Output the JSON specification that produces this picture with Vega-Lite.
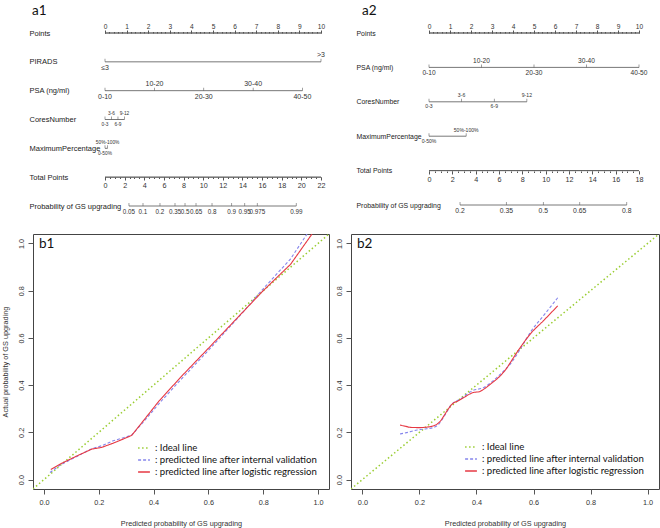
{
 "$schema": "https://vega.github.io/schema/vega-lite/v6.json",
 "padding": 0,
 "autosize": {"type": "pad"},
 "columns": 2,
 "spacing": {"row": 6, "column": 22},
 "bounds": "flush",
 "align": "each",
 "config": {
  "view": {"stroke": null},
  "axis": {"grid": false, "labelFont": "Liberation Sans", "titleFont": "Liberation Sans", "labelColor": "#333", "titleColor": "#333", "tickColor": "#555", "domainColor": "#555", "labelFlush": false, "labelOverlap": false, "titleFontWeight": "normal"},
  "title": {"font": "Lato", "fontSize": 13.5, "fontWeight": "normal", "color": "#111", "anchor": "start", "frame": "group", "baseline": "alphabetic"},
  "text": {"font": "Liberation Sans", "color": "#333"},
  "rule": {"color": "#555", "strokeWidth": 0.8},
  "tick": {"color": "#555", "thickness": 0.8}
 },
 "resolve": {"scale": {"color": "independent", "strokeDash": "independent"}, "legend": {"color": "independent", "strokeDash": "independent"}},
 "datasets": {
  "a1_pts": [{"var": "Points", "lo": 0, "hi": 10}],
  "a1_tot": [{"var": "Total Points", "lo": 0, "hi": 22}],
  "a1_seg": [
   {"var": "PIRADS", "lo": 0, "hi": 10},
   {"var": "PSA (ng/ml)", "lo": 0, "hi": 9.14},
   {"var": "CoresNumber", "lo": 0, "hi": 0.9},
   {"var": "MaximumPercentage", "lo": 0, "hi": 0.12}
  ],
  "a1_lab": [
   {"var": "PIRADS", "value": 0, "label": "≤3", "side": "below"},
   {"var": "PIRADS", "value": 10, "label": ">3", "side": "above"},
   {"var": "PSA (ng/ml)", "value": 0, "label": "0-10", "side": "below"},
   {"var": "PSA (ng/ml)", "value": 2.29, "label": "10-20", "side": "above"},
   {"var": "PSA (ng/ml)", "value": 4.57, "label": "20-30", "side": "below"},
   {"var": "PSA (ng/ml)", "value": 6.86, "label": "30-40", "side": "above"},
   {"var": "PSA (ng/ml)", "value": 9.14, "label": "40-50", "side": "below"},
   {"var": "CoresNumber", "value": 0, "label": "0-3", "side": "below"},
   {"var": "CoresNumber", "value": 0.3, "label": "3-6", "side": "above"},
   {"var": "CoresNumber", "value": 0.6, "label": "6-9", "side": "below"},
   {"var": "CoresNumber", "value": 0.9, "label": "9-12", "side": "above"},
   {"var": "MaximumPercentage", "value": 0, "label": "0-50%", "side": "below"},
   {"var": "MaximumPercentage", "value": 0.12, "label": "50%-100%", "side": "above"}
  ],
  "a1_pseg": [{"var": "Probability of GS upgrading", "lo": 2.44, "hi": 19.48}],
  "a1_prob": [
   {"var": "Probability of GS upgrading", "value": 2.44, "label": "0.05"},
   {"var": "Probability of GS upgrading", "value": 3.87, "label": "0.1"},
   {"var": "Probability of GS upgrading", "value": 5.6, "label": "0.2"},
   {"var": "Probability of GS upgrading", "value": 7.13, "label": "0.35"},
   {"var": "Probability of GS upgrading", "value": 8.15, "label": "0.5"},
   {"var": "Probability of GS upgrading", "value": 9.27, "label": "0.65"},
   {"var": "Probability of GS upgrading", "value": 10.9, "label": "0.8"},
   {"var": "Probability of GS upgrading", "value": 12.9, "label": "0.9"},
   {"var": "Probability of GS upgrading", "value": 14.23, "label": "0.95"},
   {"var": "Probability of GS upgrading", "value": 15.51, "label": "0.975"},
   {"var": "Probability of GS upgrading", "value": 19.48, "label": "0.99"}
  ],
  "a2_pts": [{"var": "Points", "lo": 0, "hi": 10}],
  "a2_tot": [{"var": "Total Points", "lo": 0, "hi": 18}],
  "a2_seg": [
   {"var": "PSA (ng/ml)", "lo": 0, "hi": 10},
   {"var": "CoresNumber", "lo": 0, "hi": 4.66},
   {"var": "MaximumPercentage", "lo": 0, "hi": 1.77}
  ],
  "a2_lab": [
   {"var": "PSA (ng/ml)", "value": 0, "label": "0-10", "side": "below"},
   {"var": "PSA (ng/ml)", "value": 2.5, "label": "10-20", "side": "above"},
   {"var": "PSA (ng/ml)", "value": 5, "label": "20-30", "side": "below"},
   {"var": "PSA (ng/ml)", "value": 7.5, "label": "30-40", "side": "above"},
   {"var": "PSA (ng/ml)", "value": 10, "label": "40-50", "side": "below"},
   {"var": "CoresNumber", "value": 0, "label": "0-3", "side": "below"},
   {"var": "CoresNumber", "value": 1.55, "label": "3-6", "side": "above"},
   {"var": "CoresNumber", "value": 3.11, "label": "6-9", "side": "below"},
   {"var": "CoresNumber", "value": 4.66, "label": "9-12", "side": "above"},
   {"var": "MaximumPercentage", "value": 0, "label": "0-50%", "side": "below"},
   {"var": "MaximumPercentage", "value": 1.77, "label": "50%-100%", "side": "above"}
  ],
  "a2_pseg": [{"var": "Probability of GS upgrading", "lo": 2.66, "hi": 16.95}],
  "a2_prob": [
   {"var": "Probability of GS upgrading", "value": 2.66, "label": "0.2"},
   {"var": "Probability of GS upgrading", "value": 6.63, "label": "0.35"},
   {"var": "Probability of GS upgrading", "value": 9.8, "label": "0.5"},
   {"var": "Probability of GS upgrading", "value": 12.92, "label": "0.65"},
   {"var": "Probability of GS upgrading", "value": 16.95, "label": "0.8"}
  ],
  "b1": [
   {"series": "Ideal line", "x": -0.04, "y": -0.04},
   {"series": "Ideal line", "x": 1.04, "y": 1.04},
   {"series": "predicted line after internal validation", "x": 0.022, "y": 0.03},
   {"series": "predicted line after internal validation", "x": 0.06, "y": 0.062},
   {"series": "predicted line after internal validation", "x": 0.12, "y": 0.098},
   {"series": "predicted line after internal validation", "x": 0.175, "y": 0.131},
   {"series": "predicted line after internal validation", "x": 0.21, "y": 0.143},
   {"series": "predicted line after internal validation", "x": 0.25, "y": 0.163},
   {"series": "predicted line after internal validation", "x": 0.29, "y": 0.177},
   {"series": "predicted line after internal validation", "x": 0.32, "y": 0.188},
   {"series": "predicted line after internal validation", "x": 0.36, "y": 0.24},
   {"series": "predicted line after internal validation", "x": 0.42, "y": 0.322},
   {"series": "predicted line after internal validation", "x": 0.5, "y": 0.424},
   {"series": "predicted line after internal validation", "x": 0.6, "y": 0.547},
   {"series": "predicted line after internal validation", "x": 0.7, "y": 0.675},
   {"series": "predicted line after internal validation", "x": 0.8, "y": 0.808},
   {"series": "predicted line after internal validation", "x": 0.9, "y": 0.935},
   {"series": "predicted line after internal validation", "x": 0.96, "y": 1.04},
   {"series": "predicted line after logistic regression", "x": 0.025, "y": 0.043},
   {"series": "predicted line after logistic regression", "x": 0.06, "y": 0.066},
   {"series": "predicted line after logistic regression", "x": 0.12, "y": 0.1},
   {"series": "predicted line after logistic regression", "x": 0.175, "y": 0.129},
   {"series": "predicted line after logistic regression", "x": 0.21, "y": 0.136},
   {"series": "predicted line after logistic regression", "x": 0.25, "y": 0.153},
   {"series": "predicted line after logistic regression", "x": 0.29, "y": 0.172},
   {"series": "predicted line after logistic regression", "x": 0.32, "y": 0.187},
   {"series": "predicted line after logistic regression", "x": 0.36, "y": 0.245},
   {"series": "predicted line after logistic regression", "x": 0.42, "y": 0.333},
   {"series": "predicted line after logistic regression", "x": 0.5, "y": 0.435},
   {"series": "predicted line after logistic regression", "x": 0.6, "y": 0.556},
   {"series": "predicted line after logistic regression", "x": 0.7, "y": 0.678},
   {"series": "predicted line after logistic regression", "x": 0.8, "y": 0.8},
   {"series": "predicted line after logistic regression", "x": 0.9, "y": 0.912},
   {"series": "predicted line after logistic regression", "x": 0.978, "y": 1.04}
  ],
  "b2": [
   {"series": "Ideal line", "x": -0.04, "y": -0.04},
   {"series": "Ideal line", "x": 1.04, "y": 1.04},
   {"series": "predicted line after internal validation", "x": 0.132, "y": 0.193},
   {"series": "predicted line after internal validation", "x": 0.16, "y": 0.2},
   {"series": "predicted line after internal validation", "x": 0.192, "y": 0.21},
   {"series": "predicted line after internal validation", "x": 0.225, "y": 0.215},
   {"series": "predicted line after internal validation", "x": 0.251, "y": 0.221},
   {"series": "predicted line after internal validation", "x": 0.268, "y": 0.235},
   {"series": "predicted line after internal validation", "x": 0.285, "y": 0.265},
   {"series": "predicted line after internal validation", "x": 0.3, "y": 0.295},
   {"series": "predicted line after internal validation", "x": 0.309, "y": 0.313},
   {"series": "predicted line after internal validation", "x": 0.325, "y": 0.33},
   {"series": "predicted line after internal validation", "x": 0.344, "y": 0.341},
   {"series": "predicted line after internal validation", "x": 0.365, "y": 0.36},
   {"series": "predicted line after internal validation", "x": 0.385, "y": 0.376},
   {"series": "predicted line after internal validation", "x": 0.426, "y": 0.39},
   {"series": "predicted line after internal validation", "x": 0.45, "y": 0.41},
   {"series": "predicted line after internal validation", "x": 0.472, "y": 0.433},
   {"series": "predicted line after internal validation", "x": 0.5, "y": 0.465},
   {"series": "predicted line after internal validation", "x": 0.519, "y": 0.49},
   {"series": "predicted line after internal validation", "x": 0.554, "y": 0.553},
   {"series": "predicted line after internal validation", "x": 0.589, "y": 0.624},
   {"series": "predicted line after internal validation", "x": 0.635, "y": 0.694},
   {"series": "predicted line after internal validation", "x": 0.685, "y": 0.77},
   {"series": "predicted line after logistic regression", "x": 0.132, "y": 0.231},
   {"series": "predicted line after logistic regression", "x": 0.15, "y": 0.226},
   {"series": "predicted line after logistic regression", "x": 0.169, "y": 0.221},
   {"series": "predicted line after logistic regression", "x": 0.2, "y": 0.22},
   {"series": "predicted line after logistic regression", "x": 0.216, "y": 0.221},
   {"series": "predicted line after logistic regression", "x": 0.245, "y": 0.226},
   {"series": "predicted line after logistic regression", "x": 0.262, "y": 0.235},
   {"series": "predicted line after logistic regression", "x": 0.275, "y": 0.25},
   {"series": "predicted line after logistic regression", "x": 0.286, "y": 0.27},
   {"series": "predicted line after logistic regression", "x": 0.3, "y": 0.297},
   {"series": "predicted line after logistic regression", "x": 0.315, "y": 0.32},
   {"series": "predicted line after logistic regression", "x": 0.335, "y": 0.333},
   {"series": "predicted line after logistic regression", "x": 0.356, "y": 0.348},
   {"series": "predicted line after logistic regression", "x": 0.39, "y": 0.369},
   {"series": "predicted line after logistic regression", "x": 0.41, "y": 0.372},
   {"series": "predicted line after logistic regression", "x": 0.426, "y": 0.383},
   {"series": "predicted line after logistic regression", "x": 0.455, "y": 0.41},
   {"series": "predicted line after logistic regression", "x": 0.484, "y": 0.44},
   {"series": "predicted line after logistic regression", "x": 0.505, "y": 0.47},
   {"series": "predicted line after logistic regression", "x": 0.519, "y": 0.496},
   {"series": "predicted line after logistic regression", "x": 0.554, "y": 0.56},
   {"series": "predicted line after logistic regression", "x": 0.589, "y": 0.617},
   {"series": "predicted line after logistic regression", "x": 0.635, "y": 0.673},
   {"series": "predicted line after logistic regression", "x": 0.685, "y": 0.736}
  ]
 },
 "concat": [
  {
   "width": 296, "height": 228,
   "view": {"stroke": null},
   "title": {"text": "a1", "offset": -17, "dx": -1},
   "encoding": {
    "y": {"field": "var", "type": "nominal",
     "scale": {"type": "point", "domain": ["Points", "PIRADS", "PSA (ng/ml)", "CoresNumber", "MaximumPercentage", "Total Points", "Probability of GS upgrading"], "range": [33, 206], "padding": 0},
     "axis": {"title": null, "domain": false, "ticks": false, "tickSize": 0, "labelAlign": "left", "labelPadding": 4, "labelFontSize": 7.5, "labelColor": "#222", "labelLimit": 200}}
   },
   "layer": [
    {"data": {"name": "a1_pts"}, "mark": {"type": "rule"},
     "encoding": {"x": {"field": "lo", "type": "quantitative", "scale": {"domain": [0, 10], "range": [72, 288], "nice": false, "zero": false},
       "axis": {"orient": "top", "offset": -33, "domain": false, "tickCount": 10, "tickSize": 3, "labelPadding": 1, "labelFontSize": 6.6, "title": null}}, "x2": {"field": "hi"}}},
    {"data": {"name": "a1_pts"}, "mark": {"type": "rule"},
     "encoding": {"x": {"field": "lo", "type": "quantitative", "scale": {"domain": [0, 10], "range": [72, 288], "nice": false, "zero": false},
       "axis": {"orient": "top", "offset": -33, "domain": false, "tickCount": 50, "tickSize": 1.5, "labels": false, "title": null}}, "x2": {"field": "hi"}}},
    {"data": {"name": "a1_tot"}, "mark": {"type": "rule"},
     "encoding": {"x": {"field": "lo", "type": "quantitative", "scale": {"domain": [0, 22], "range": [72, 288], "nice": false, "zero": false},
       "axis": {"orient": "bottom", "offset": -51, "domain": false, "tickCount": 11, "tickSize": 3, "labelPadding": 1, "labelFontSize": 7.2, "title": null}}, "x2": {"field": "hi"}}},
    {"data": {"name": "a1_tot"}, "mark": {"type": "rule"},
     "encoding": {"x": {"field": "lo", "type": "quantitative", "scale": {"domain": [0, 22], "range": [72, 288], "nice": false, "zero": false},
       "axis": {"orient": "bottom", "offset": -51, "domain": false, "tickCount": 44, "tickSize": 1.5, "labels": false, "title": null}}, "x2": {"field": "hi"}}},
    {"data": {"name": "a1_seg"}, "mark": {"type": "rule"},
     "encoding": {"x": {"field": "lo", "type": "quantitative", "scale": {"domain": [0, 10], "range": [72, 288], "nice": false, "zero": false}, "axis": null}, "x2": {"field": "hi"}}},
    {"data": {"name": "a1_lab"}, "mark": {"type": "tick", "size": 3, "yOffset": -1.5},
     "encoding": {"x": {"field": "value", "type": "quantitative", "scale": {"domain": [0, 10], "range": [72, 288], "nice": false, "zero": false}, "axis": null}}},
    {"data": {"name": "a1_lab"}, "transform": [{"filter": "datum.side === 'above'"}],
     "mark": {"type": "text", "baseline": "bottom", "dy": -3.5},
     "encoding": {"x": {"field": "value", "type": "quantitative", "scale": {"domain": [0, 10], "range": [72, 288], "nice": false, "zero": false}, "axis": null},
      "text": {"field": "label"},
      "size": {"condition": {"test": "datum.var === 'CoresNumber' || datum.var === 'MaximumPercentage'", "value": 4.8}, "value": 7}}},
    {"data": {"name": "a1_lab"}, "transform": [{"filter": "datum.side === 'below'"}],
     "mark": {"type": "text", "baseline": "top", "dy": 2.5},
     "encoding": {"x": {"field": "value", "type": "quantitative", "scale": {"domain": [0, 10], "range": [72, 288], "nice": false, "zero": false}, "axis": null},
      "text": {"field": "label"},
      "size": {"condition": {"test": "datum.var === 'CoresNumber' || datum.var === 'MaximumPercentage'", "value": 4.8}, "value": 7}}},
    {"data": {"name": "a1_pseg"}, "mark": {"type": "rule"},
     "encoding": {"x": {"field": "lo", "type": "quantitative", "scale": {"domain": [0, 22], "range": [72, 288], "nice": false, "zero": false}, "axis": null}, "x2": {"field": "hi"}}},
    {"data": {"name": "a1_prob"}, "mark": {"type": "tick", "size": 3, "yOffset": -1.5},
     "encoding": {"x": {"field": "value", "type": "quantitative", "scale": {"domain": [0, 22], "range": [72, 288], "nice": false, "zero": false}, "axis": null}}},
    {"data": {"name": "a1_prob"}, "mark": {"type": "text", "baseline": "top", "dy": 3, "fontSize": 6.3},
     "encoding": {"x": {"field": "value", "type": "quantitative", "scale": {"domain": [0, 22], "range": [72, 288], "nice": false, "zero": false}, "axis": null},
      "text": {"field": "label"}}}
   ],
   "resolve": {"scale": {"x": "independent"}, "axis": {"x": "independent"}}
  },
  {
   "width": 308, "height": 228,
   "view": {"stroke": null},
   "title": {"text": "a2", "offset": -17, "dx": 11},
   "encoding": {
    "y": {"field": "var", "type": "nominal",
     "scale": {"type": "point", "domain": ["Points", "PSA (ng/ml)", "CoresNumber", "MaximumPercentage", "Total Points", "Probability of GS upgrading"], "range": [33, 205], "padding": 0},
     "axis": {"title": null, "domain": false, "ticks": false, "tickSize": 0, "labelAlign": "left", "labelPadding": -5, "labelFontSize": 6.9, "labelColor": "#222", "labelLimit": 200}}
   },
   "layer": [
    {"data": {"name": "a2_pts"}, "mark": {"type": "rule"},
     "encoding": {"x": {"field": "lo", "type": "quantitative", "scale": {"domain": [0, 10], "range": [78, 288], "nice": false, "zero": false},
       "axis": {"orient": "top", "offset": -33, "domain": false, "tickCount": 10, "tickSize": 3, "labelPadding": 1, "labelFontSize": 6.6, "title": null}}, "x2": {"field": "hi"}}},
    {"data": {"name": "a2_pts"}, "mark": {"type": "rule"},
     "encoding": {"x": {"field": "lo", "type": "quantitative", "scale": {"domain": [0, 10], "range": [78, 288], "nice": false, "zero": false},
       "axis": {"orient": "top", "offset": -33, "domain": false, "tickCount": 50, "tickSize": 1.5, "labels": false, "title": null}}, "x2": {"field": "hi"}}},
    {"data": {"name": "a2_tot"}, "mark": {"type": "rule"},
     "encoding": {"x": {"field": "lo", "type": "quantitative", "scale": {"domain": [0, 18], "range": [78, 288], "nice": false, "zero": false},
       "axis": {"orient": "bottom", "offset": -57, "domain": false, "tickCount": 9, "tickSize": 3, "labelPadding": 1, "labelFontSize": 7.2, "title": null}}, "x2": {"field": "hi"}}},
    {"data": {"name": "a2_tot"}, "mark": {"type": "rule"},
     "encoding": {"x": {"field": "lo", "type": "quantitative", "scale": {"domain": [0, 18], "range": [78, 288], "nice": false, "zero": false},
       "axis": {"orient": "bottom", "offset": -57, "domain": false, "tickCount": 36, "tickSize": 1.5, "labels": false, "title": null}}, "x2": {"field": "hi"}}},
    {"data": {"name": "a2_seg"}, "mark": {"type": "rule"},
     "encoding": {"x": {"field": "lo", "type": "quantitative", "scale": {"domain": [0, 10], "range": [78, 288], "nice": false, "zero": false}, "axis": null}, "x2": {"field": "hi"}}},
    {"data": {"name": "a2_lab"}, "mark": {"type": "tick", "size": 3, "yOffset": -1.5},
     "encoding": {"x": {"field": "value", "type": "quantitative", "scale": {"domain": [0, 10], "range": [78, 288], "nice": false, "zero": false}, "axis": null}}},
    {"data": {"name": "a2_lab"}, "transform": [{"filter": "datum.side === 'above'"}],
     "mark": {"type": "text", "baseline": "bottom", "dy": -3.5},
     "encoding": {"x": {"field": "value", "type": "quantitative", "scale": {"domain": [0, 10], "range": [78, 288], "nice": false, "zero": false}, "axis": null},
      "text": {"field": "label"},
      "size": {"condition": {"test": "datum.var === 'CoresNumber' || datum.var === 'MaximumPercentage'", "value": 5.1}, "value": 6.6}}},
    {"data": {"name": "a2_lab"}, "transform": [{"filter": "datum.side === 'below'"}],
     "mark": {"type": "text", "baseline": "top", "dy": 2.5},
     "encoding": {"x": {"field": "value", "type": "quantitative", "scale": {"domain": [0, 10], "range": [78, 288], "nice": false, "zero": false}, "axis": null},
      "text": {"field": "label"},
      "size": {"condition": {"test": "datum.var === 'CoresNumber' || datum.var === 'MaximumPercentage'", "value": 5.1}, "value": 6.6}}},
    {"data": {"name": "a2_pseg"}, "mark": {"type": "rule"},
     "encoding": {"x": {"field": "lo", "type": "quantitative", "scale": {"domain": [0, 18], "range": [78, 288], "nice": false, "zero": false}, "axis": null}, "x2": {"field": "hi"}}},
    {"data": {"name": "a2_prob"}, "mark": {"type": "tick", "size": 3, "yOffset": -1.5},
     "encoding": {"x": {"field": "value", "type": "quantitative", "scale": {"domain": [0, 18], "range": [78, 288], "nice": false, "zero": false}, "axis": null}}},
    {"data": {"name": "a2_prob"}, "mark": {"type": "text", "baseline": "top", "dy": 3, "fontSize": 6.8},
     "encoding": {"x": {"field": "value", "type": "quantitative", "scale": {"domain": [0, 18], "range": [78, 288], "nice": false, "zero": false}, "axis": null},
      "text": {"field": "label"}}}
   ],
   "resolve": {"scale": {"x": "independent"}, "axis": {"x": "independent"}}
  },
  {
   "width": 296, "height": 255,
   "view": {"stroke": "#444", "strokeWidth": 1},
   "title": {"text": "b1", "offset": -16, "dx": 6},
   "data": {"name": "b1"},
   "mark": {"type": "line", "clip": true},
   "encoding": {
    "x": {"field": "x", "type": "quantitative", "scale": {"domain": [-0.04, 1.04], "nice": false, "zero": false},
     "axis": {"title": "Predicted probability of GS upgrading", "values": [0, 0.2, 0.4, 0.6, 0.8, 1], "format": ".1f", "domain": false, "tickSize": 5, "labelPadding": 4, "titlePadding": 14, "labelFontSize": 7.3, "titleFontSize": 7.3}},
    "y": {"field": "y", "type": "quantitative", "scale": {"domain": [-0.04, 1.04], "nice": false, "zero": false},
     "axis": {"title": "Actual probability of GS upgrading", "values": [0, 0.2, 0.4, 0.6, 0.8, 1], "format": ".1f", "domain": false, "tickSize": 5, "labelAngle": -90, "labelAlign": "center", "labelBaseline": "bottom", "labelPadding": 3, "titlePadding": 8, "labelFontSize": 7.3, "titleFontSize": 7.3}},
    "strokeWidth": {"condition": {"test": "datum.series === 'Ideal line'", "value": 1.5}, "value": 1.1},
    "color": {"field": "series", "type": "nominal",
     "scale": {"domain": ["Ideal line", "predicted line after internal validation", "predicted line after logistic regression"], "range": ["#9acd32", "#8585ec", "#e63843"]},
     "legend": {"title": null, "orient": "none", "legendX": 104, "legendY": 207, "symbolType": "stroke", "symbolSize": 140, "symbolStrokeWidth": 1.3, "labelFont": "Lato", "labelFontSize": 9.6, "labelColor": "#111", "labelLimit": 400, "labelOffset": 4, "rowPadding": 0, "padding": 0, "labelExpr": "': ' + datum.label"}},
    "strokeDash": {"field": "series", "type": "nominal",
     "scale": {"domain": ["Ideal line", "predicted line after internal validation", "predicted line after logistic regression"], "range": [[1.5, 2.5], [3, 2], [1, 0]]},
     "legend": {"title": null, "orient": "none", "legendX": 104, "legendY": 207, "symbolType": "stroke", "symbolSize": 140, "symbolStrokeWidth": 1.3, "labelFont": "Lato", "labelFontSize": 9.6, "labelColor": "#111", "labelLimit": 400, "labelOffset": 4, "rowPadding": 0, "padding": 0, "labelExpr": "': ' + datum.label"}}
   }
  },
  {
   "width": 308, "height": 255,
   "view": {"stroke": "#444", "strokeWidth": 1},
   "title": {"text": "b2", "offset": -16, "dx": 6},
   "data": {"name": "b2"},
   "mark": {"type": "line", "clip": true, "interpolate": "monotone"},
   "encoding": {
    "x": {"field": "x", "type": "quantitative", "scale": {"domain": [-0.04, 1.04], "nice": false, "zero": false},
     "axis": {"title": "Predicted probability of GS upgrading", "values": [0, 0.2, 0.4, 0.6, 0.8, 1], "format": ".1f", "domain": false, "tickSize": 5, "labelPadding": 4, "titlePadding": 14, "labelFontSize": 7.3, "titleFontSize": 7.3}},
    "y": {"field": "y", "type": "quantitative", "scale": {"domain": [-0.04, 1.04], "nice": false, "zero": false},
     "axis": {"title": null, "values": [0, 0.2, 0.4, 0.6, 0.8, 1], "format": ".1f", "domain": false, "tickSize": 5, "labelAngle": -90, "labelAlign": "center", "labelBaseline": "bottom", "labelPadding": 3, "labelFontSize": 7.3}},
    "strokeWidth": {"condition": {"test": "datum.series === 'Ideal line'", "value": 1.5}, "value": 1.1},
    "color": {"field": "series", "type": "nominal",
     "scale": {"domain": ["Ideal line", "predicted line after internal validation", "predicted line after logistic regression"], "range": ["#9acd32", "#8585ec", "#e63843"]},
     "legend": {"title": null, "orient": "none", "legendX": 113, "legendY": 206, "symbolType": "stroke", "symbolSize": 140, "symbolStrokeWidth": 1.3, "labelFont": "Lato", "labelFontSize": 9.6, "labelColor": "#111", "labelLimit": 400, "labelOffset": 4, "rowPadding": 0, "padding": 0, "labelExpr": "': ' + datum.label"}},
    "strokeDash": {"field": "series", "type": "nominal",
     "scale": {"domain": ["Ideal line", "predicted line after internal validation", "predicted line after logistic regression"], "range": [[1.5, 2.5], [3, 2], [1, 0]]},
     "legend": {"title": null, "orient": "none", "legendX": 113, "legendY": 206, "symbolType": "stroke", "symbolSize": 140, "symbolStrokeWidth": 1.3, "labelFont": "Lato", "labelFontSize": 9.6, "labelColor": "#111", "labelLimit": 400, "labelOffset": 4, "rowPadding": 0, "padding": 0, "labelExpr": "': ' + datum.label"}}
   }
  }
 ]
}
